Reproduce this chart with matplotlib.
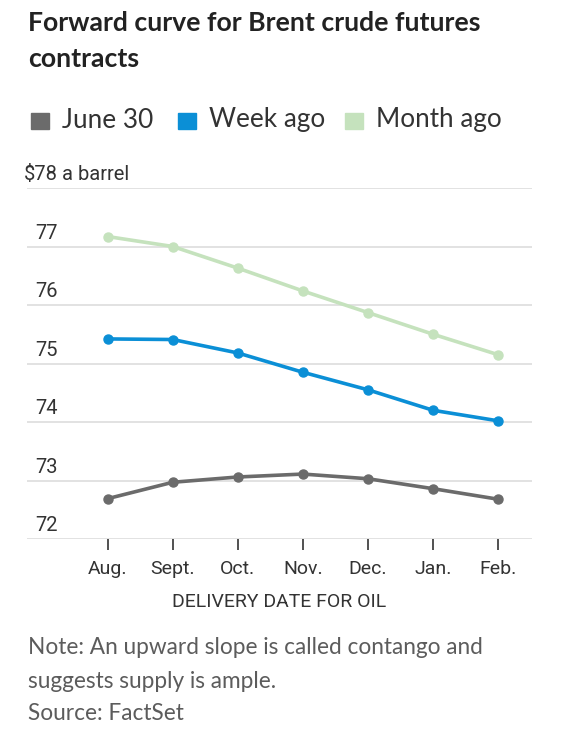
import matplotlib
matplotlib.use("Agg")
import matplotlib.pyplot as plt
from matplotlib.patches import Rectangle
import matplotlib.transforms as mtransforms

months = ["Aug.", "Sept.", "Oct.", "Nov.", "Dec.", "Jan.", "Feb."]
june30 = [72.69, 72.97, 73.06, 73.11, 73.03, 72.86, 72.68]
week_ago = [75.42, 75.41, 75.18, 74.85, 74.55, 74.20, 74.02]
month_ago = [77.17, 77.00, 76.63, 76.24, 75.87, 75.50, 75.15]
series_names = ["June 30", "Week ago", "Month ago"]
colors = ["#6b6b6b", "#0b8fd6", "#c5e2bd"]
yticks = [72, 73, 74, 75, 76, 77, 78]
ytick_labels = ["72", "73", "74", "75", "76", "77", "$78"]

FONT = ["Roboto", "DejaVu Sans"]
TFONT = ["Lato", "DejaVu Sans"]
W, H = 580, 742
fig = plt.figure(figsize=(W / 100, H / 100), dpi=100)
fig.patch.set_facecolor("white")

def fx(px):
    return px / W

def fy(py):
    return 1 - py / H

ax = fig.add_axes([fx(27), fy(539), fx(532) - fx(27), fy(188) - fy(539)])
x = list(range(len(months)))
ax.set_xlim(-1.24, 6.52)
ax.set_ylim(72, 78)

for yv in yticks:
    ax.axhline(yv, color="#dddddd", lw=1.2, zorder=1)

for vals, c in zip([month_ago, week_ago, june30], [colors[2], colors[1], colors[0]]):
    ax.plot(x, vals, color=c, lw=2.6, marker="o", ms=6.5, zorder=3,
            solid_joinstyle="round", solid_capstyle="round")

for s in ax.spines.values():
    s.set_visible(False)
ax.set_yticks([])
ax.set_xticks(x)
ax.set_xticklabels(months, fontsize=14, color="#333333", family=FONT)
ax.tick_params(axis="x", length=8, width=1.2, color="#333333", pad=7)
ax.set_xlabel("DELIVERY DATE FOR OIL", fontsize=14, color="#333333", family=FONT, labelpad=11)

lab_px = 58
trans = mtransforms.blended_transform_factory(ax.transAxes, ax.transData)
xr = (lab_px - 27) / (532 - 27)
for yv, lab in zip(yticks, ytick_labels):
    ax.text(xr, yv + 0.23, lab, transform=trans, ha="right", va="center",
            fontsize=14.5, color="#333333", family=FONT)
ax.text(xr + 4 / (532 - 27), 78 + 0.23, "a barrel", transform=trans, ha="left", va="center",
        fontsize=14.5, color="#333333", family=FONT)

fig.text(fx(28), fy(41), "Forward curve for Brent crude futures\ncontracts", ha="left", va="center",
         fontsize=19.2, fontweight="bold", color="#222222", family=TFONT, linespacing=1.58)

# legend
lx = [31, 178, 345]
for name, c, px in zip(series_names, colors, lx):
    fig.patches.append(Rectangle((fx(px), fy(129)), fx(18), fy(113) - fy(129),
                                 transform=fig.transFigure, color=c, figure=fig))
    fig.text(fx(px + 31), fy(120), name, ha="left", va="center", fontsize=18.8,
             color="#333333", family=TFONT)

fig.text(fx(28), fy(648), "Note: An upward slope is called contango and", ha="left", va="center",
         fontsize=16.3, color="#5c5c5c", family=TFONT)
fig.text(fx(28), fy(681), "suggests supply is ample.", ha="left", va="center",
         fontsize=16.3, color="#5c5c5c", family=TFONT)
fig.text(fx(28), fy(713), "Source: FactSet", ha="left", va="center",
         fontsize=16.3, color="#5c5c5c", family=TFONT)

fig.savefig("out.png", dpi=100, facecolor="white")
